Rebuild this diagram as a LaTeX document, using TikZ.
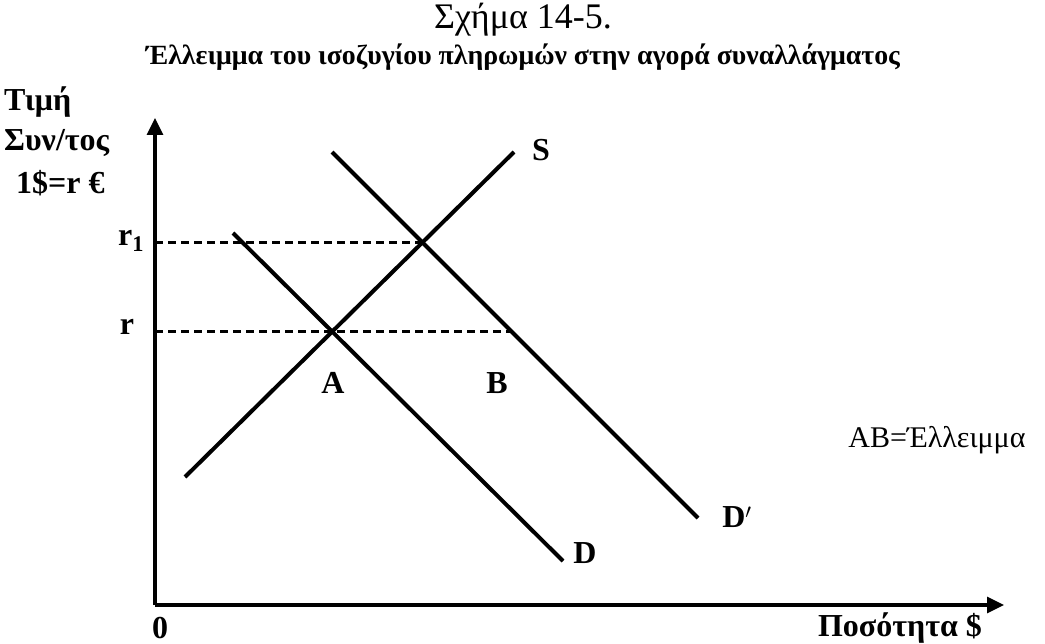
\documentclass[tikz,border=0pt]{standalone}
\usepackage{fontspec}
\setmainfont{Liberation Serif}
\usetikzlibrary{arrows.meta,intersections}
\tikzset{
  axis/.style={line width=3.2pt, -{Triangle[length=17pt,width=16pt]}},
  curve/.style={line width=4pt},
  level/.style={line width=2.4pt, dash pattern=on 8pt off 5pt},
  lbl/.style={font=\fontsize{32}{36}\selectfont\bfseries, inner sep=0pt},
  txt/.style={font=\fontsize{30}{34}\selectfont, inner sep=0pt},
}

\begin{document}
\begin{tikzpicture}[x=1pt, y=-1pt]
  \useasboundingbox (0,0) rectangle (1045,644);
  % Titel
  \node[txt, font=\fontsize{36}{40}\selectfont] (title) at (523,20) {Σχήμα 14-5.};
  \node[lbl, font=\fontsize{27.8}{32}\selectfont\bfseries] (subtitle) at (523,57) {Έλλειμμα του ισοζυγίου πληρωμών στην αγορά συναλλάγματος};
  % Achsen
  \coordinate (O) at (155,605);
  \coordinate (ytip) at (155,118);
  \coordinate (xtip) at (1004,605);
  \draw[axis] (O) -- (ytip);
  \draw[axis] (O) -- (xtip);
  \node[lbl, anchor=west] (yl1) at (4,102) {Τιμή};
  \node[lbl, anchor=west] (yl2) at (4,143) {Συν/τος};
  \node[lbl, anchor=west] (yl3) at (16,183) {1\$=r €};
  \node[lbl] (zero) at (160,628) {0};
  \node[lbl] (xl) at (900,628) {Ποσότητα \$};
  % Kurven S, D, D'
  \coordinate (S0) at (185,477);
  \coordinate (S1) at (514,152);
  \coordinate (D0) at (233,233);
  \coordinate (D1) at (563,561);
  \coordinate (Dp0) at (332,152);
  \coordinate (Dp1) at (698,518);
  \draw[curve, name path=S] (S0) -- (S1);
  \draw[curve, name path=D] (D0) -- (D1);
  \draw[curve, name path=Dp] (Dp0) -- (Dp1);
  % Gleichgewicht A und Niveau r
  \path[name intersections={of=S and D, by=A}];
  \path[name intersections={of=S and Dp, by=E1}];
  \path[name path=rline] (A -| O) -- ++(700,0);
  \path[name intersections={of=rline and Dp, by=B}];
  \draw[level] (A -| O) -- (B);
  \draw[level] (E1 -| O) -- (E1);
  % Beschriftungen
  \node[lbl] (r1) at (131,241) {r\textsubscript{1}};
  \node[lbl] (r) at (127,327) {r};
  \node[lbl] (Alb) at (333,383) {A};
  \node[lbl] (Blb) at (497,383) {B};
  \node[lbl] (Slb) at (541,150) {S};
  \node[lbl] (Dplb) at (737,517) {D$'$};
  \node[lbl] (Dlb) at (585,553) {D};
  \node[txt] (deficit) at (937,440) {AB=Έλλειμμα};
\end{tikzpicture}
\end{document}
